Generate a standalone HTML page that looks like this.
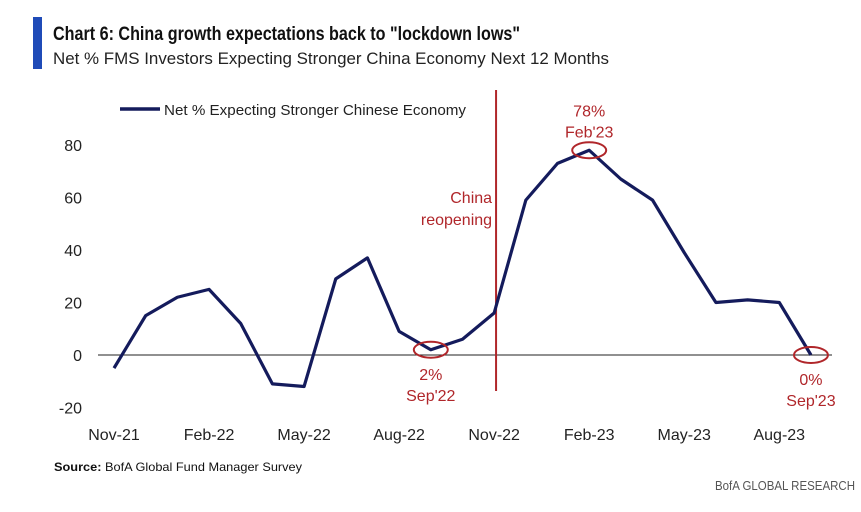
<!DOCTYPE html>
<html><head><meta charset="utf-8"><style>
body{margin:0;background:#fff;width:861px;height:507px;overflow:hidden;font-family:"Liberation Sans Narrow","Liberation Sans",sans-serif;}
svg text{font-family:"Liberation Sans Narrow","Liberation Sans",sans-serif;}
</style></head><body>
<svg id="chart" width="861" height="507">
<rect x="33" y="17" width="9" height="52" fill="#1f4bb8"/>
<text x="53" y="40" font-size="19" font-weight="bold" fill="#111" textLength="467" lengthAdjust="spacingAndGlyphs">Chart 6: China growth expectations back to "lockdown lows"</text>
<text x="53" y="64" font-size="17" fill="#222" textLength="556" lengthAdjust="spacingAndGlyphs">Net % FMS Investors Expecting Stronger China Economy Next 12 Months</text>
<line x1="120" y1="109" x2="160" y2="109" stroke="#141b5c" stroke-width="3.5"/>
<text x="164" y="115" font-size="15" fill="#222" textLength="302" lengthAdjust="spacingAndGlyphs">Net % Expecting Stronger Chinese Economy</text>
<g id="axes"></g>
<g id="series"></g>
<text x="54" y="471" font-size="12" fill="#111" textLength="248" lengthAdjust="spacingAndGlyphs"><tspan font-weight="bold">Source:</tspan> BofA Global Fund Manager Survey</text>
<text x="855" y="490" font-size="13" fill="#555" text-anchor="end" textLength="140" lengthAdjust="spacingAndGlyphs">BofA GLOBAL RESEARCH</text>
</svg>
<script>
const months = ["Nov-21","Dec-21","Jan-22","Feb-22","Mar-22","Apr-22","May-22","Jun-22","Jul-22","Aug-22","Sep-22","Oct-22","Nov-22","Dec-22","Jan-23","Feb-23","Mar-23","Apr-23","May-23","Jun-23","Jul-23","Aug-23","Sep-23"];
const values = [-5,15,22,25,12,-11,-12,29,37,9,2,6,16,59,73,78,67,59,39,20,21,20,0];
const yTicks = [80,60,40,20,0,-20];
const xTickLabels = ["Nov-21","Feb-22","May-22","Aug-22","Nov-22","Feb-23","May-23","Aug-23"];
const ns="http://www.w3.org/2000/svg";
const x0=114, step=31.68, y0=355, perUnit=52.5/20;
const xs=i=>x0+i*step;
const ys=v=>y0-v*perUnit;
const axes=document.getElementById('axes'), series=document.getElementById('series');
function mk(tag,attrs,parent){const e=document.createElementNS(ns,tag);for(const k in attrs)e.setAttribute(k,attrs[k]);parent.appendChild(e);return e;}
yTicks.forEach(v=>{
  const t=mk('text',{x:82,y:ys(v)+6,'font-size':16,fill:'#222','text-anchor':'end'},axes);
  t.textContent=v;
  
  
});
const zl=mk('line',{x1:98,x2:832,y1:ys(0),y2:ys(0),stroke:'#222','stroke-width':1},axes);


xTickLabels.forEach(l=>{
  const i=months.indexOf(l);
  const t=mk('text',{x:xs(i),y:440,'font-size':16,fill:'#222','text-anchor':'middle'},axes);
  t.textContent=l;
  
  
});
const ri=months.indexOf("Nov-22")+0.06;
const rl=mk('line',{x1:xs(ri),x2:xs(ri),y1:90,y2:391,stroke:'#b0262a','stroke-width':2},axes);


[["China",203],["reopening",225]].forEach(([s,y])=>{
  const t=mk('text',{x:xs(ri)-4,y:y,'font-size':16,fill:'#b0262a','text-anchor':'end'},axes);
  t.textContent=s;
  
  
});
const p=mk('polyline',{points:values.map((v,i)=>xs(i)+','+ys(v)).join(' '),fill:'none',stroke:'#141b5c','stroke-width':3.2,'stroke-linejoin':'round'},series);


const notes=[["Sep-22",["2%","Sep'22"],1],["Feb-23",["78%","Feb'23"],-1],["Sep-23",["0%","Sep'23"],1]];
notes.forEach(([m,lbl,dir])=>{
  const i=months.indexOf(m), cx=xs(i), cy=ys(values[i]);
  const e=mk('ellipse',{cx:cx,cy:cy,rx:17,ry:8,fill:'none',stroke:'#b0262a','stroke-width':2},series);
  
  
  lbl.forEach((s,k)=>{
    const y = dir>0 ? cy+30+k*21 : cy-34+k*21;
    const t=mk('text',{x:cx,y:y,'font-size':16,fill:'#b0262a','text-anchor':'middle'},series);
    t.textContent=s;
    
    
  });
});
</script>
</body></html>
